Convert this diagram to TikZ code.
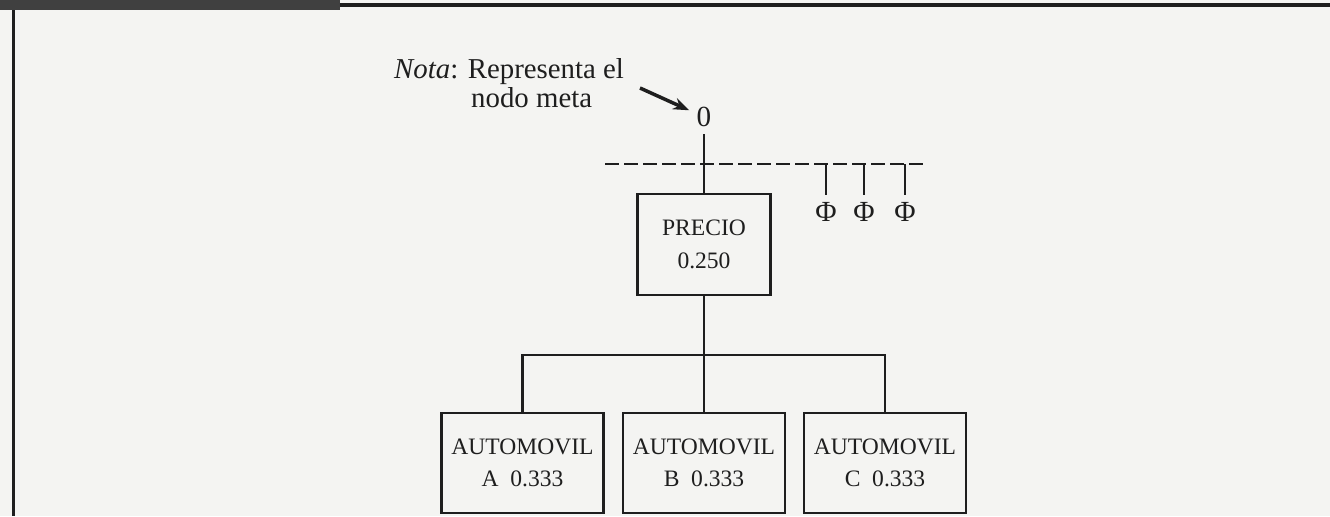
\documentclass[tikz,border=0pt]{standalone}
\usepackage{fontspec}
\setmainfont{Liberation Serif}
\usetikzlibrary{arrows.meta}
\definecolor{ink}{HTML}{1E1E1E}
\definecolor{paper}{HTML}{F4F4F2}

\begin{document}
\begin{tikzpicture}[color=ink, line width=0.7pt, >={Stealth[length=1.6mm, width=1.2mm]},
  crit/.style={draw, minimum width=1.33cm, minimum height=1.01cm, inner sep=0pt, align=center,
    font=\fontsize{6.7}{9.3}\selectfont},
  alt/.style={crit, minimum width=1.62cm, minimum height=1.0cm},
  tag/.style={inner sep=1.8pt, font=\fontsize{8.3}{9}\selectfont},
  note/.style={anchor=base west, inner sep=0pt, font=\fontsize{8.2}{9}\selectfont}]
\useasboundingbox (0,0) rectangle (13.30,5.16);
\fill[paper] (0,0) rectangle (13.30,5.16);
% page frame of the scan
\fill[ink!85] (0,5.06) rectangle (3.40,5.16);
\draw[line width=0.4mm] (3.40,5.11) -- (13.30,5.11);
\draw[line width=0.3mm] (0.135,5.06) -- (0.135,0);
% goal node with its note
\node[note] (nota) at (3.93,4.38) {\textit{Nota}: Representa el};
\node[note] (meta) at (4.70,4.09) {nodo meta};
\node[tag] (goal) at (7.04,3.99) {0};
\coordinate (pointer) at (6.40,4.28);
\draw[->, line width=1pt] (pointer) -- (goal);
% criterion shown expanded
\node[crit] (precio) at (7.04,2.715) {PRECIO\\0.250};
\draw (goal) -- (precio);
% the other criteria, not expanded
\coordinate (dl) at (6.05,3.52);
\coordinate (dr) at (9.27,3.52);
\draw[line width=0.8pt, dash pattern=on 1.35mm off 0.55mm] (dl) -- (dr);
\foreach \x/\n in {8.26/1, 8.64/2, 9.05/3} {
  \node[tag] (phi\n) at (\x,3.04) {Φ};
  \draw (phi\n.north) -- (phi\n.north |- dl);
}
% alternatives under PRECIO
\node[alt] (autoA) at (5.225,0.53) {AUTOMOVIL\\A~~0.333};
\node[alt] (autoB) at (7.04,0.53) {AUTOMOVIL\\B~~0.333};
\node[alt] (autoC) at (8.85,0.53) {AUTOMOVIL\\C~~0.333};
\coordinate (fork) at (7.04,1.61);
\draw (precio) -- (autoB);
\draw (autoA) |- (fork) -| (autoC);
\end{tikzpicture}
\end{document}
